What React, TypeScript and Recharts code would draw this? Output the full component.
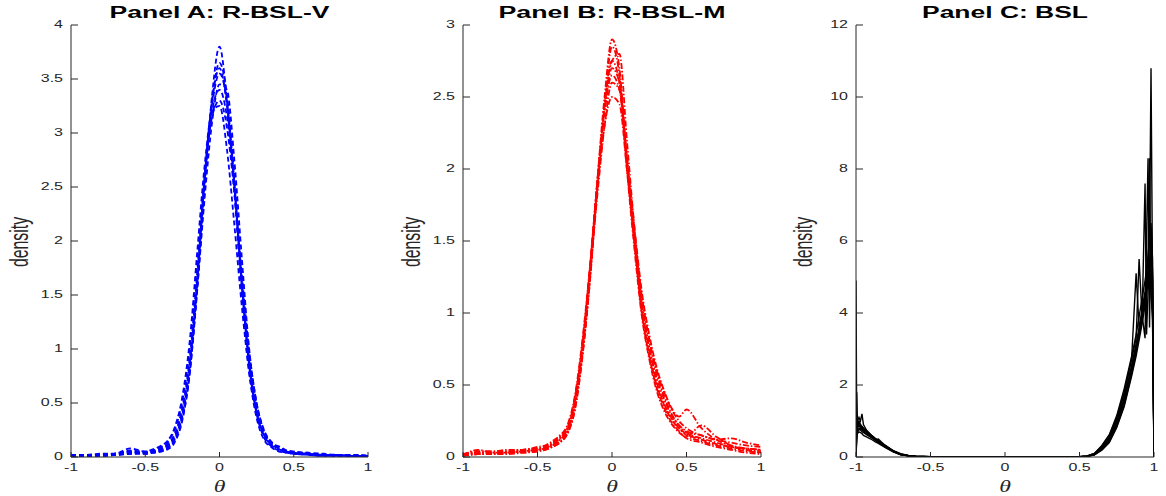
import React from 'react';
import { LineChart, Line, XAxis, YAxis } from 'recharts';

// ---------- Panel A: R-BSL-V ----------
const thetaA = [-1, -0.9, -0.8, -0.7, -0.6, -0.5, -0.45, -0.4, -0.35, -0.3, -0.25, -0.2, -0.15, -0.1, -0.05, 0, 0.05, 0.1, 0.15, 0.2, 0.25, 0.3, 0.35, 0.4, 0.45, 0.5, 0.6, 0.7, 0.8, 0.9, 1];
const aRun1 = [0.01, 0.01, 0.01, 0.02, 0.03, 0.03, 0.04, 0.05, 0.08, 0.16, 0.36, 0.78, 1.55, 2.5, 3.35, 3.8, 3.3, 2.45, 1.5, 0.78, 0.36, 0.16, 0.09, 0.05, 0.04, 0.03, 0.02, 0.01, 0.01, 0.01, 0.01];
const aRun2 = [0.02, 0.01, 0.02, 0.03, 0.05, 0.04, 0.05, 0.07, 0.11, 0.2, 0.42, 0.88, 1.65, 2.6, 3.3, 3.6, 3.25, 2.5, 1.6, 0.88, 0.42, 0.2, 0.11, 0.07, 0.05, 0.04, 0.03, 0.02, 0.02, 0.01, 0.01];
const aRun3 = [0.01, 0.01, 0.02, 0.02, 0.03, 0.04, 0.04, 0.06, 0.09, 0.17, 0.38, 0.82, 1.55, 2.4, 3.1, 3.45, 3.4, 2.75, 1.85, 1.0, 0.5, 0.24, 0.12, 0.08, 0.05, 0.04, 0.03, 0.02, 0.01, 0.01, 0.01];
const aRun4 = [0.02, 0.02, 0.03, 0.03, 0.06, 0.05, 0.06, 0.09, 0.14, 0.26, 0.52, 1.0, 1.8, 2.6, 3.15, 3.3, 3.05, 2.45, 1.7, 0.98, 0.5, 0.25, 0.14, 0.09, 0.06, 0.05, 0.04, 0.03, 0.02, 0.02, 0.01];
const aRun5 = [0.01, 0.02, 0.02, 0.03, 0.08, 0.05, 0.07, 0.1, 0.15, 0.28, 0.56, 1.08, 1.9, 2.7, 3.2, 3.25, 2.85, 2.15, 1.4, 0.78, 0.4, 0.21, 0.12, 0.08, 0.05, 0.04, 0.03, 0.02, 0.02, 0.01, 0.01];
const aRun6 = [0.01, 0.01, 0.01, 0.02, 0.04, 0.04, 0.05, 0.06, 0.1, 0.18, 0.4, 0.85, 1.6, 2.55, 3.3, 3.65, 3.35, 2.6, 1.65, 0.9, 0.44, 0.21, 0.12, 0.1, 0.06, 0.04, 0.03, 0.02, 0.02, 0.01, 0.01];
const aRun7 = [0.02, 0.02, 0.02, 0.03, 0.05, 0.04, 0.05, 0.08, 0.12, 0.22, 0.46, 0.92, 1.7, 2.6, 3.2, 3.4, 3.15, 2.5, 1.65, 0.92, 0.46, 0.23, 0.13, 0.08, 0.06, 0.05, 0.03, 0.02, 0.02, 0.02, 0.01];
const aRun8 = [0.01, 0.01, 0.02, 0.02, 0.04, 0.03, 0.04, 0.05, 0.07, 0.14, 0.34, 0.78, 1.6, 2.55, 3.25, 3.55, 3.3, 2.55, 1.6, 0.84, 0.4, 0.18, 0.1, 0.06, 0.04, 0.03, 0.02, 0.01, 0.01, 0.01, 0.01];
const yTicksA = [0, 0.5, 1, 1.5, 2, 2.5, 3, 3.5, 4];

// ---------- Panel B: R-BSL-M ----------
const thetaB = [-1, -0.9, -0.8, -0.7, -0.6, -0.5, -0.45, -0.4, -0.35, -0.3, -0.25, -0.2, -0.15, -0.1, -0.05, 0, 0.05, 0.1, 0.15, 0.2, 0.25, 0.3, 0.35, 0.4, 0.45, 0.5, 0.6, 0.7, 0.8, 0.9, 1];
const bRun1 = [0.01, 0.05, 0.03, 0.03, 0.04, 0.05, 0.06, 0.08, 0.12, 0.18, 0.36, 0.72, 1.25, 1.9, 2.5, 2.9, 2.7, 2.05, 1.5, 1.02, 0.72, 0.5, 0.36, 0.26, 0.2, 0.16, 0.12, 0.09, 0.07, 0.05, 0.04];
const bRun2 = [0.02, 0.03, 0.03, 0.04, 0.05, 0.06, 0.07, 0.1, 0.14, 0.2, 0.4, 0.78, 1.3, 1.9, 2.4, 2.7, 2.6, 2.05, 1.55, 1.1, 0.8, 0.58, 0.42, 0.3, 0.22, 0.17, 0.13, 0.1, 0.07, 0.06, 0.05];
const bRun3 = [0.01, 0.02, 0.02, 0.03, 0.04, 0.05, 0.06, 0.09, 0.13, 0.2, 0.4, 0.76, 1.25, 1.8, 2.3, 2.6, 2.55, 2.1, 1.6, 1.15, 0.85, 0.62, 0.46, 0.34, 0.28, 0.33, 0.2, 0.12, 0.08, 0.06, 0.05];
const bRun4 = [0.01, 0.03, 0.03, 0.03, 0.04, 0.05, 0.06, 0.08, 0.11, 0.17, 0.34, 0.7, 1.2, 1.85, 2.45, 2.75, 2.8, 2.2, 1.6, 1.08, 0.76, 0.52, 0.37, 0.27, 0.2, 0.15, 0.11, 0.08, 0.06, 0.04, 0.03];
const bRun5 = [0.02, 0.04, 0.04, 0.05, 0.05, 0.07, 0.08, 0.11, 0.15, 0.22, 0.42, 0.8, 1.3, 1.85, 2.3, 2.5, 2.45, 2.0, 1.55, 1.12, 0.82, 0.6, 0.45, 0.33, 0.25, 0.2, 0.15, 0.12, 0.1, 0.08, 0.07];
const bRun6 = [0.01, 0.02, 0.02, 0.03, 0.03, 0.04, 0.05, 0.07, 0.1, 0.16, 0.33, 0.7, 1.22, 1.88, 2.45, 2.85, 2.65, 2.0, 1.45, 0.98, 0.68, 0.46, 0.32, 0.23, 0.17, 0.14, 0.22, 0.14, 0.08, 0.05, 0.03];
const bRun7 = [0.01, 0.03, 0.03, 0.04, 0.05, 0.06, 0.07, 0.09, 0.13, 0.19, 0.38, 0.75, 1.28, 1.9, 2.4, 2.65, 2.55, 2.0, 1.5, 1.05, 0.76, 0.55, 0.4, 0.29, 0.22, 0.18, 0.15, 0.12, 0.13, 0.1, 0.08];
const bRun8 = [0.01, 0.02, 0.02, 0.02, 0.03, 0.04, 0.05, 0.07, 0.1, 0.16, 0.32, 0.68, 1.2, 1.85, 2.45, 2.75, 2.6, 2.05, 1.5, 1.0, 0.7, 0.48, 0.34, 0.24, 0.18, 0.13, 0.1, 0.07, 0.05, 0.03, 0.02];
const yTicksB = [0, 0.5, 1, 1.5, 2, 2.5, 3];

// ---------- Panel C: BSL ----------
const thetaC = [-1, -0.995, -0.99, -0.98, -0.97, -0.96, -0.95, -0.93, -0.9, -0.87, -0.85, -0.8, -0.75, -0.7, -0.65, -0.6, -0.5, -0.4, 0, 0.4, 0.5, 0.55, 0.6, 0.65, 0.7, 0.75, 0.8, 0.85, 0.88, 0.9, 0.92, 0.94, 0.95, 0.96, 0.97, 0.98, 0.99, 1];
const cRun1 = [4.9, 0.6, 0.8, 0.9, 0.85, 0.8, 0.75, 0.7, 0.6, 0.5, 0.45, 0.3, 0.17, 0.08, 0.04, 0.02, 0.005, 0, 0, 0, 0.005, 0.02, 0.07, 0.22, 0.45, 0.9, 1.55, 2.4, 3.0, 3.5, 4.0, 4.5, 4.8, 5.2, 6.0, 10.8, 5.0, 0];
const cRun2 = [0, 1.8, 0.9, 1.0, 0.9, 0.85, 0.8, 0.72, 0.62, 0.52, 0.46, 0.3, 0.16, 0.08, 0.04, 0.02, 0.005, 0, 0, 0, 0.005, 0.02, 0.08, 0.25, 0.52, 1.0, 1.65, 2.55, 3.15, 3.6, 4.1, 4.6, 5.0, 5.5, 8.3, 4.5, 4.0, 0];
const cRun3 = [0, 0.5, 0.7, 0.75, 0.8, 0.75, 0.7, 0.65, 0.55, 0.48, 0.42, 0.28, 0.15, 0.07, 0.03, 0.015, 0.004, 0, 0, 0, 0.004, 0.02, 0.08, 0.26, 0.55, 1.05, 1.75, 2.75, 5.1, 3.6, 3.9, 4.4, 4.8, 5.1, 5.3, 4.6, 3.8, 0];
const cRun4 = [0, 0.7, 1.0, 1.1, 1.0, 1.2, 0.9, 0.75, 0.62, 0.5, 0.44, 0.29, 0.16, 0.08, 0.04, 0.02, 0.005, 0, 0, 0, 0.006, 0.025, 0.1, 0.3, 0.6, 1.1, 1.8, 2.7, 3.3, 5.5, 3.9, 4.3, 4.6, 5.0, 4.8, 5.2, 4.4, 0];
const cRun5 = [0, 0.8, 0.85, 0.95, 0.9, 0.85, 0.8, 0.7, 0.58, 0.48, 0.5, 0.3, 0.16, 0.07, 0.03, 0.015, 0.004, 0, 0, 0, 0.004, 0.015, 0.06, 0.2, 0.42, 0.85, 1.45, 2.3, 2.9, 3.35, 3.8, 7.6, 3.4, 4.6, 5.2, 5.8, 4.9, 0];
const cRun6 = [0, 1.0, 0.75, 0.8, 0.75, 0.7, 0.68, 0.62, 0.55, 0.46, 0.4, 0.27, 0.15, 0.07, 0.03, 0.015, 0.004, 0, 0, 0, 0.005, 0.02, 0.07, 0.23, 0.48, 0.95, 1.6, 2.5, 3.05, 3.5, 3.95, 3.3, 6.1, 8.3, 3.6, 6.5, 5.5, 0];
const cRun7 = [0, 0.6, 0.65, 0.7, 0.68, 0.65, 0.6, 0.56, 0.5, 0.42, 0.38, 0.25, 0.14, 0.06, 0.03, 0.01, 0.003, 0, 0, 0, 0.003, 0.015, 0.06, 0.19, 0.4, 0.82, 1.4, 2.25, 2.8, 3.25, 3.7, 4.2, 4.5, 4.9, 5.4, 5.9, 5.2, 0];
const cRun8 = [0, 0.9, 0.95, 0.85, 0.82, 0.78, 0.74, 0.68, 0.58, 0.5, 0.45, 0.32, 0.18, 0.09, 0.045, 0.02, 0.006, 0, 0, 0, 0.006, 0.03, 0.1, 0.32, 0.62, 1.15, 1.9, 2.8, 3.4, 3.9, 4.4, 4.9, 5.2, 5.6, 6.0, 6.2, 5.0, 0];
const yTicksC = [0, 2, 4, 6, 8, 10, 12];

const xTicks = [-1, -0.5, 0, 0.5, 1];
const titles = ['Panel A: R-BSL-V', 'Panel B: R-BSL-M', 'Panel C: BSL'];

const SANS = '"Liberation Sans", Arial, Helvetica, sans-serif';
const SERIF = '"Liberation Serif", "Times New Roman", serif';
const TXT = '#262626';
const H = 496;
const TOP = 25;
const BOTTOM = 457;

type PanelProps = {
  pageLeft: number;
  width: number;
  plotLeft: number;
  plotRight: number;
  xs: number[];
  curves: number[][];
  color: string;
  dash?: string;
  curveType: 'monotone' | 'linear';
  strokeWidth: number;
  yMax: number;
  yTicks: number[];
  axisColor: string;
};

function Panel(p: PanelProps) {
  const data = p.xs.map((x, i) => {
    const row: Record<string, number> = { x };
    p.curves.forEach((c, k) => {
      row['s' + k] = c[i];
    });
    return row;
  });
  const yTick = (props: any) => {
    const y = props.y;
    return (
      <g>
        <line x1={p.plotLeft} x2={p.plotLeft + 7} y1={y} y2={y} stroke={p.axisColor} strokeWidth={1} />
        <g transform={`translate(${p.plotLeft - 8},${y})`}>
          <text transform="scale(1.6,1)" textAnchor="end" dominantBaseline="central" fontSize={10} fontFamily={SANS} fill={TXT}>
            {String(props.payload.value)}
          </text>
        </g>
      </g>
    );
  };
  const xTick = (props: any) => {
    const x = props.x;
    return (
      <g>
        <line x1={x} x2={x} y1={BOTTOM} y2={BOTTOM - 5} stroke={p.axisColor} strokeWidth={1} />
        <g transform={`translate(${x},${BOTTOM + 11})`}>
          <text transform="scale(1.6,1)" textAnchor="middle" dominantBaseline="central" fontSize={10} fontFamily={SANS} fill={TXT}>
            {String(props.payload.value)}
          </text>
        </g>
      </g>
    );
  };
  return (
    <div style={{ position: 'absolute', left: p.pageLeft, top: 0 }}>
      <LineChart
        width={p.width}
        height={H}
        data={data}
        margin={{ top: TOP, right: p.width - p.plotRight, bottom: 0, left: 0 }}
      >
        <XAxis
          dataKey="x"
          type="number"
          domain={[-1, 1]}
          ticks={xTicks}
          interval={0}
          allowDataOverflow
          height={H - BOTTOM}
          tickSize={0}
          tickMargin={0}
          tickLine={false}
          axisLine={{ stroke: p.axisColor, strokeWidth: 1 }}
          tick={xTick}
        />
        <YAxis
          type="number"
          domain={[0, p.yMax]}
          ticks={p.yTicks}
          interval={0}
          allowDataOverflow
          width={p.plotLeft}
          tickSize={0}
          tickMargin={0}
          tickLine={false}
          axisLine={{ stroke: p.axisColor, strokeWidth: 1 }}
          tick={yTick}
        />
        {p.curves.map((_, k) => (
          <Line
            key={k}
            dataKey={'s' + k}
            type={p.curveType}
            stroke={p.color}
            strokeWidth={p.strokeWidth}
            strokeDasharray={p.dash}
            dot={false}
            activeDot={false}
            isAnimationActive={false}
          />
        ))}
      </LineChart>
    </div>
  );
}

function Labels() {
  const centers = [219.5, 612, 1005];
  const titleWidths = [220, 227, 166];
  const densityX = [28, 420, 812];
  return (
    <svg width={1166} height={H} style={{ position: 'absolute', left: 0, top: 0, pointerEvents: 'none' }}>
      {centers.map((cx, i) => (
        <g key={i}>
          <text
            x={cx}
            y={18}
            textAnchor="middle"
            fontWeight="bold"
            fontSize={16}
            fontFamily={SANS}
            fill="#000"
            textLength={titleWidths[i]}
            lengthAdjust="spacingAndGlyphs"
          >
            {titles[i]}
          </text>
          <text
            transform={`translate(${cx},492) scale(1.4,1)`}
            textAnchor="middle"
            fontStyle="italic"
            fontSize={17}
            fontFamily={SERIF}
            fill={TXT}
          >
            θ
          </text>
          <text
            transform={`translate(${densityX[i]},242) rotate(-90) scale(0.61,1)`}
            textAnchor="middle"
            fontSize={26}
            fontFamily={SANS}
            fill={TXT}
          >
            density
          </text>
        </g>
      ))}
    </svg>
  );
}

export default function App() {
  return (
    <div style={{ position: 'absolute', left: 0, top: 0, width: 1166, height: H, background: '#fff', overflow: 'hidden' }}>
      <Panel
        pageLeft={0}
        width={390}
        plotLeft={71}
        plotRight={368}
        xs={thetaA}
        curves={[aRun1, aRun2, aRun3, aRun4, aRun5, aRun6, aRun7, aRun8]}
        color="#0000ff"
        dash="5 3"
        curveType="monotone"
        strokeWidth={1.8}
        yMax={4}
        yTicks={yTicksA}
        axisColor="#262626"
      />
      <Panel
        pageLeft={390}
        width={390}
        plotLeft={73}
        plotRight={371}
        xs={thetaB}
        curves={[bRun1, bRun2, bRun3, bRun4, bRun5, bRun6, bRun7, bRun8]}
        color="#ff0000"
        dash="6 2 1.5 2"
        curveType="monotone"
        strokeWidth={1.8}
        yMax={3}
        yTicks={yTicksB}
        axisColor="#262626"
      />
      <Panel
        pageLeft={780}
        width={386}
        plotLeft={76}
        plotRight={374}
        xs={thetaC}
        curves={[cRun1, cRun2, cRun3, cRun4, cRun5, cRun6, cRun7, cRun8]}
        color="#000000"
        curveType="linear"
        strokeWidth={1.4}
        yMax={12}
        yTicks={yTicksC}
        axisColor="#262626"
      />
      <Labels />
    </div>
  );
}
